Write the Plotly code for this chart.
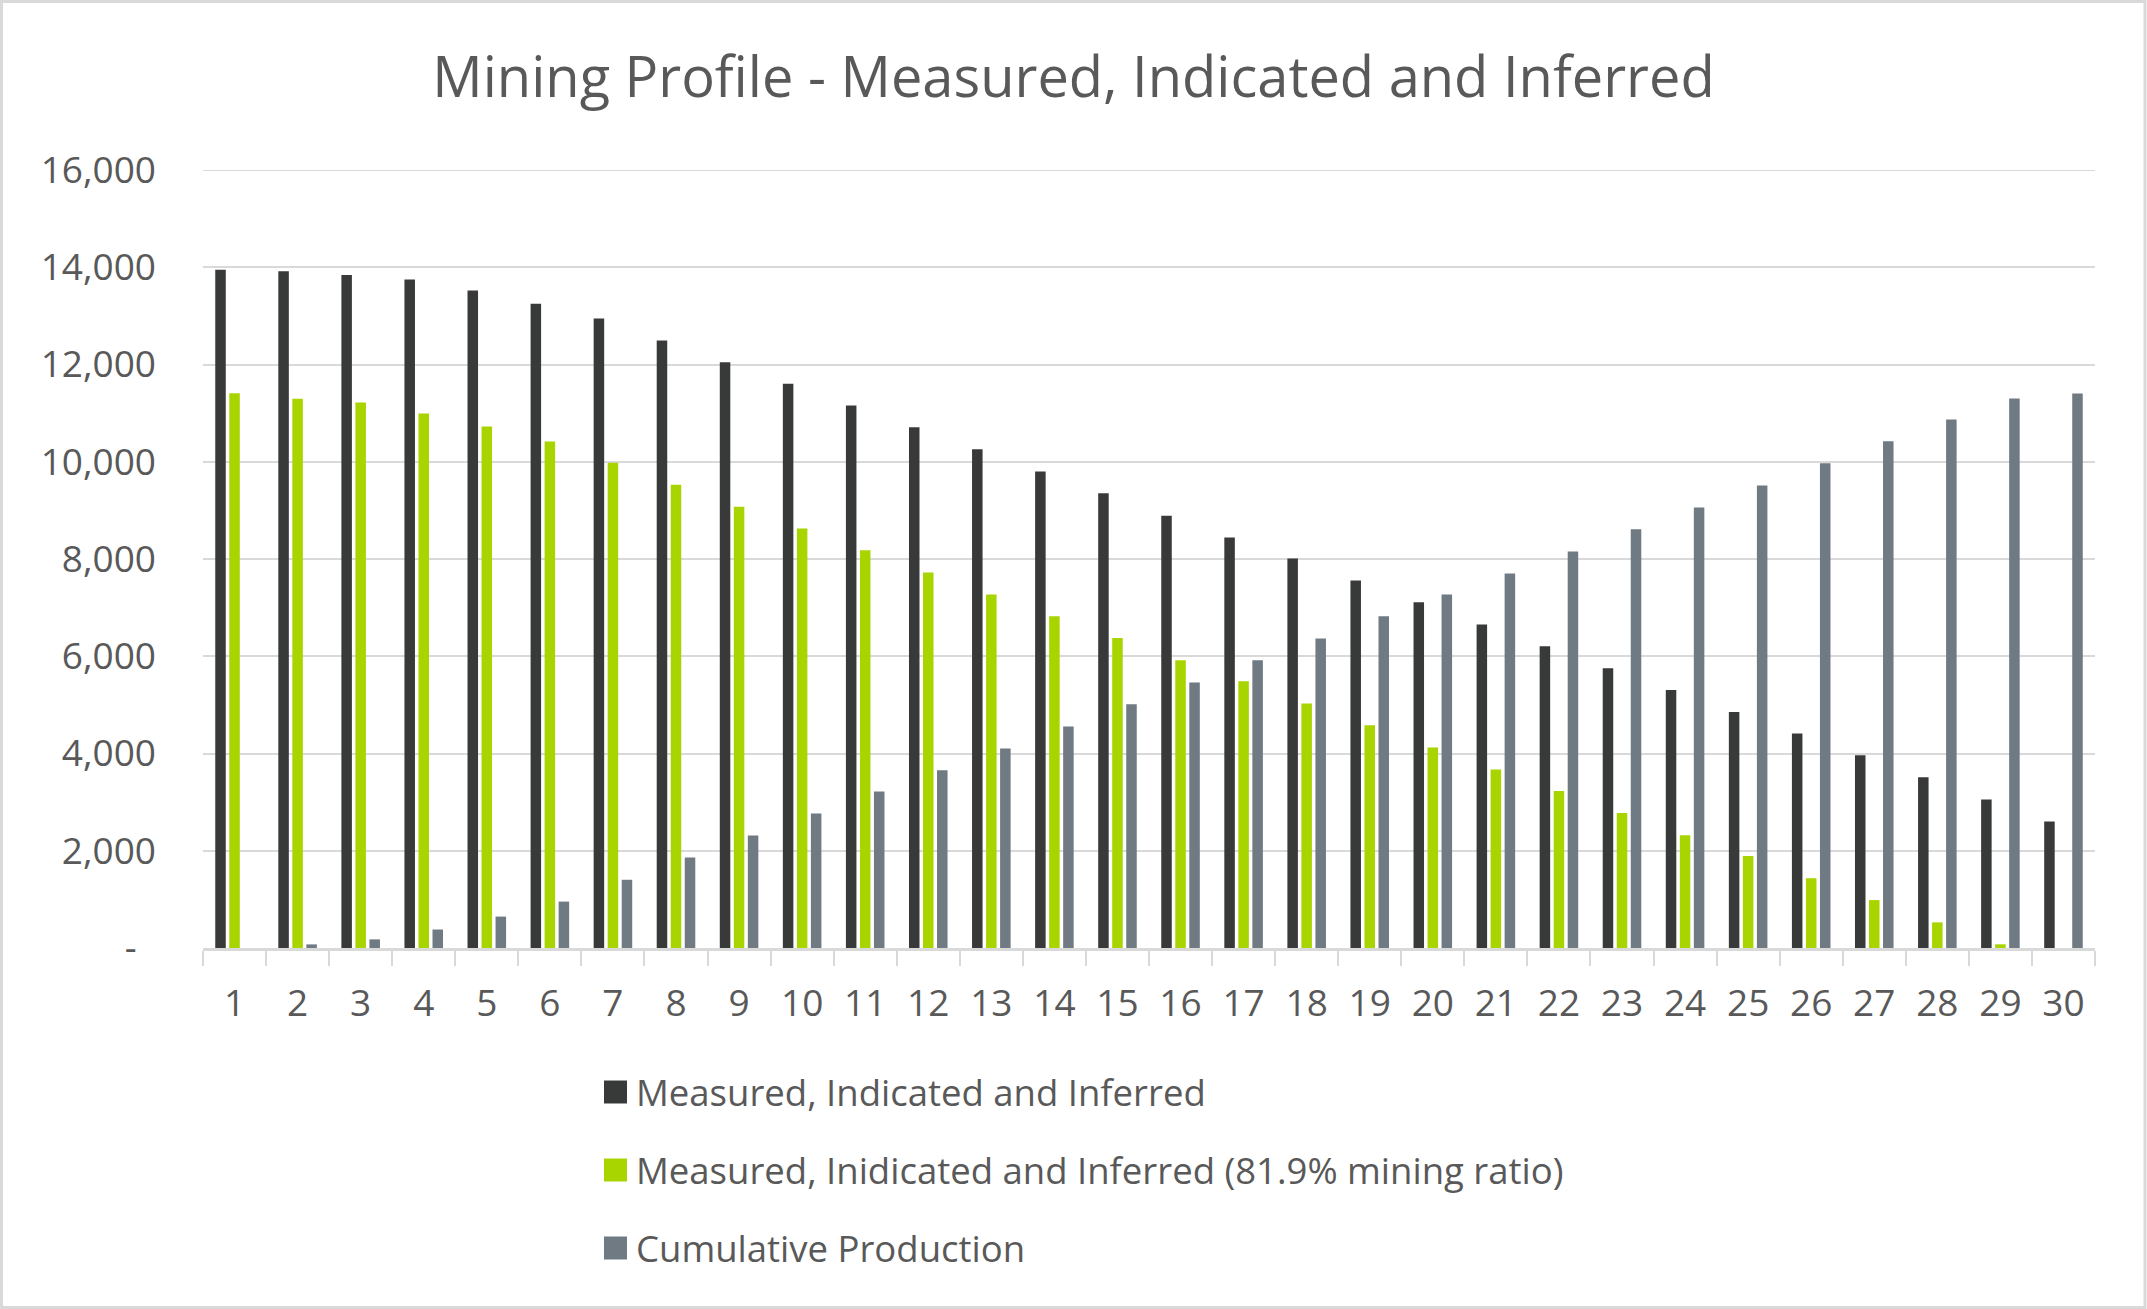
import plotly.graph_objects as go

# ---------------- data ----------------
periods = [str(i) for i in range(1, 31)]

mii_total = [13950, 13920, 13840, 13750, 13520, 13250, 12945, 12495, 12045, 11605,
             11155, 10710, 10255, 9800, 9350, 8892, 8444, 8012, 7557, 7109,
             6655, 6205, 5755, 5304, 4854, 4413, 3963, 3513, 3054, 2604]

mii_mined = [11410, 11297, 11217, 10990, 10725, 10418, 9978, 9528, 9077, 8628,
             8181, 7724, 7268, 6821, 6373, 5917, 5485, 5028, 4580, 4123,
             3672, 3227, 2776, 2318, 1894, 1435, 985, 527, 76, 0]

cumulative = [0, 74, 177, 380, 646, 954, 1403, 1863, 2314, 2764,
              3221, 3653, 4101, 4555, 5012, 5460, 5917, 6365, 6821, 7268,
              7702, 8152, 8611, 9061, 9512, 9970, 10421, 10871, 11303, 11406]

series_names = ["Measured, Indicated and Inferred",
                "Measured, Inidicated and Inferred (81.9% mining ratio)",
                "Cumulative Production"]
series_colors = ["#383a39", "#a8d400", "#6f7a83"]

y_tickvals = [0, 2000, 4000, 6000, 8000, 10000, 12000, 14000, 16000]
y_ticktext = ["-\u00a0\u00a0", "2,000", "4,000", "6,000", "8,000",
              "10,000", "12,000", "14,000", "16,000"]

title_text = "Mining Profile - Measured, Indicated and Inferred"

# ---------------- layout geometry ----------------
W, H = 2147, 1309
L, R, T, B = 203, 52, 170, 361
PW, PH = W - L - R, H - T - B

def px_x(p):
    return (p - L) / PW

def px_y(p):
    return (H - B - p) / PH

FONT = "Open Sans"
TEXT_COLOR = "#595959"
GRID = "#d9d9d9"

fig = go.Figure()
for name, vals, col in zip(series_names, [mii_total, mii_mined, cumulative], series_colors):
    fig.add_trace(go.Bar(x=periods, y=vals, name=name, marker_color=col,
                         marker_line_width=0, showlegend=False))

shapes = []
annotations = []
# manual legend
legend_rows = [1092, 1170, 1248]
for name, col, yc in zip(series_names, series_colors, legend_rows):
    shapes.append(dict(type="rect", xref="paper", yref="paper",
                       x0=px_x(604), x1=px_x(627), y0=px_y(yc + 11.5), y1=px_y(yc - 11.5),
                       fillcolor=col, line_width=0))
    annotations.append(dict(text=name, xref="paper", yref="paper",
                            x=px_x(634), y=px_y(yc), xanchor="left", yanchor="middle",
                            showarrow=False,
                            font=dict(family=FONT, size=36.5, color=TEXT_COLOR)))
# top gridline (exactly at the range edge)
shapes.append(dict(type="line", xref="paper", yref="y", x0=0, x1=1, y0=16000, y1=16000,
                   line=dict(color=GRID, width=2), layer="below"))
# chart border
shapes.append(dict(type="rect", xref="paper", yref="paper",
                   x0=px_x(1.5), x1=px_x(2145), y0=px_y(1307.5), y1=px_y(1.5),
                   line=dict(color=GRID, width=3), fillcolor="rgba(0,0,0,0)", layer="below"))

fig.update_layout(
    width=W, height=H,
    margin=dict(l=L, r=R, t=T, b=B, pad=0),
    paper_bgcolor="white", plot_bgcolor="white",
    barmode="group", bargap=0.333, bargroupgap=0.25,
    font=dict(family=FONT, size=37, color=TEXT_COLOR),
    title=dict(text=title_text, x=0.5, xref="container", xanchor="center",
               y=1 - 77 / H, yref="container", yanchor="middle",
               font=dict(family=FONT, size=56, color=TEXT_COLOR)),
    shapes=shapes, annotations=annotations,
    showlegend=False,
)
fig.update_yaxes(range=[0, 16000], tickvals=y_tickvals, ticktext=y_ticktext,
                 showgrid=True, gridcolor=GRID, gridwidth=2, zeroline=False,
                 showline=False, ticks="", ticklabelstandoff=46,
                 tickfont=dict(family=FONT, size=37, color=TEXT_COLOR))
fig.update_xaxes(type="category", showgrid=False, showline=True, linecolor=GRID,
                 linewidth=2.5, ticks="outside", tickson="boundaries", ticklen=15,
                 tickwidth=2, tickcolor=GRID, ticklabelstandoff=21,
                 tickfont=dict(family=FONT, size=37, color=TEXT_COLOR))

fig.write_html("out.html")
